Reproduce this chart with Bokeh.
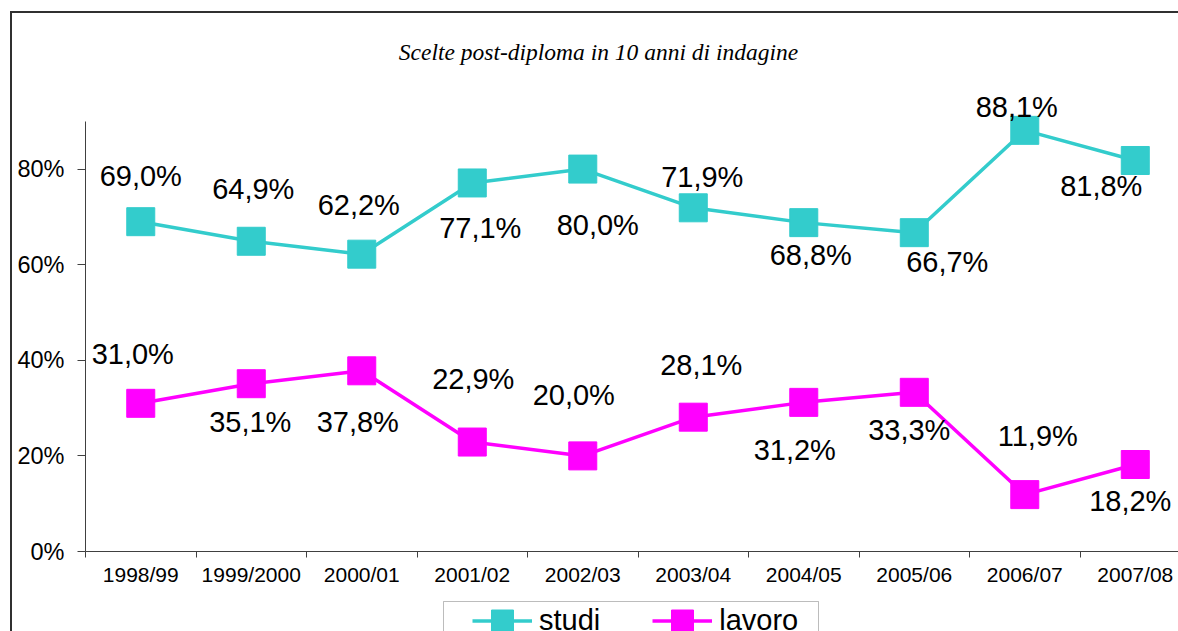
from bokeh.plotting import figure
from bokeh.models import (Range1d, FixedTicker, Label, Legend, LegendItem,
                          ColumnDataSource, BoxAnnotation, Div, Spacer)
from bokeh.layouts import column, row
from bokeh.embed import file_html
from bokeh.resources import INLINE
from bokeh.core.properties import value

# ---------------- data ----------------
categories = ["1998/99", "1999/2000", "2000/01", "2001/02", "2002/03",
              "2003/04", "2004/05", "2005/06", "2006/07", "2007/08"]
studi = [69.0, 64.9, 62.2, 77.1, 80.0, 71.9, 68.8, 66.7, 88.1, 81.8]
lavoro = [31.0, 35.1, 37.8, 22.9, 20.0, 28.1, 31.2, 33.3, 11.9, 18.2]
series_labels = ["studi", "lavoro"]
y_ticks = [0, 20, 40, 60, 80]
y_tick_labels = ["0%", "20%", "40%", "60%", "80%"]
title_text = "Scelte post-diploma in 10 anni di indagine"

# ---------------- label placement (screen px, style only) ----------------
studi_dx = [0, 2, -3, 8, 15, 9, 7, 33, -8, -34]
studi_dy = [-46, -52, -49, 45, 56, -31, 32, 29, -23, 26]
lavoro_dx = [-8, -1, -4, 1, -9, 8, -9, -5, 13, -5]
lavoro_dy = [-49, 38, 51, -63, -61, -52, 48, 38, -59, 36]

CYAN = "#33CCCC"
MAGENTA = "#FF00FF"
FONT = "Liberation Sans"
AXIS_COL = "#404040"
FRAME_COL = "#303030"


def fmt(v):
    return f"{v:.1f}%".replace(".", ",")


xs = list(range(len(categories)))

# ---------------- main chart ----------------
p = figure(width=1166, height=587, output_backend="svg", toolbar_location=None,
           title_location=None,
           x_range=Range1d(-0.5, 9.391), y_range=Range1d(0, 112.55),
           min_border_left=73, min_border_right=0, min_border_top=0,
           min_border_bottom=49)
p.xgrid.visible = False
p.ygrid.visible = False
p.outline_line_color = None
p.background_fill_color = "white"
p.border_fill_color = "white"

xa = p.xaxis[0]
xa.ticker = FixedTicker(ticks=xs, minor_ticks=[i - 0.5 for i in range(len(categories) + 1)])
xa.major_label_overrides = {i: c for i, c in enumerate(categories)}
xa.major_tick_out = 0
xa.major_tick_in = 0
xa.minor_tick_out = 6
xa.minor_tick_in = 0
xa.minor_tick_line_color = AXIS_COL
xa.axis_line_color = AXIS_COL
xa.major_label_text_font = FONT
xa.major_label_text_font_size = "21px"
xa.major_label_text_color = "black"
xa.major_label_standoff = 5

ya = p.yaxis[0]
ya.ticker = FixedTicker(ticks=y_ticks)
ya.major_label_overrides = dict(zip(y_ticks, y_tick_labels))
ya.bounds = (0, 90)
ya.major_tick_out = 8
ya.major_tick_in = 0
ya.minor_tick_out = 0
ya.minor_tick_in = 0
ya.major_tick_line_color = AXIS_COL
ya.axis_line_color = AXIS_COL
ya.major_label_text_font = FONT
ya.major_label_text_font_size = "23.5px"
ya.major_label_text_color = "black"
ya.major_label_standoff = 13

l1 = p.line(xs, studi, line_color=CYAN, line_width=3.5)
p.scatter(xs, studi, marker="square", size=28, fill_color=CYAN, line_color=CYAN)
l2 = p.line(xs, lavoro, line_color=MAGENTA, line_width=3.5)
p.scatter(xs, lavoro, marker="square", size=28, fill_color=MAGENTA, line_color=MAGENTA)

for vals, dx, dy in ((studi, studi_dx, studi_dy), (lavoro, lavoro_dx, lavoro_dy)):
    src = ColumnDataSource(dict(x=xs, y=vals, t=[fmt(v) for v in vals], dx=dx, dy=dy))
    p.text(x="x", y="y", text="t", x_offset="dx", y_offset="dy", source=src,
           text_align="center", text_baseline="middle",
           text_font=value(FONT), text_font_size="29px", text_color="black")

p.add_layout(Label(x=513, y=500, x_units="screen", y_units="screen",
                   text=title_text, text_align="center", text_baseline="middle",
                   text_font="Liberation Serif", text_font_style="italic",
                   text_font_size="23.5px", text_color="black"))

# ---------------- legend strip (series drawn out of view, legend only) ----------------
lg = figure(width=1166, height=31, output_backend="svg", toolbar_location=None,
            title_location=None, x_axis_type=None, y_axis_type=None,
            x_range=Range1d(-0.5, 9.391), y_range=Range1d(-20, -10),
            min_border_left=73, min_border_right=0, min_border_top=0,
            min_border_bottom=0)
lg.outline_line_color = None
lg.background_fill_color = "white"
lg.border_fill_color = "white"

ll1 = lg.line(xs, studi, line_color=CYAN, line_width=3.5)
ls1 = lg.scatter(xs, studi, marker="square", size=28, fill_color=CYAN, line_color=CYAN)
ll2 = lg.line(xs, lavoro, line_color=MAGENTA, line_width=3.5)
ls2 = lg.scatter(xs, lavoro, marker="square", size=28, fill_color=MAGENTA, line_color=MAGENTA)

legend = Legend(items=[LegendItem(label=series_labels[0], renderers=[ll1, ls1]),
                       LegendItem(label=series_labels[1], renderers=[ll2, ls2])],
                orientation="horizontal", location=(387, -17), padding=0,
                spacing=52, glyph_width=60, glyph_height=55, label_standoff=7,
                label_text_font=FONT, label_text_font_size="29px",
                label_text_color="black", border_line_alpha=0,
                background_fill_alpha=0, margin=0)
lg.add_layout(legend)
lg.add_layout(BoxAnnotation(left=358, right=733, top=30, bottom=-100,
                            left_units="screen", right_units="screen",
                            top_units="screen", bottom_units="screen",
                            fill_alpha=0, line_color="#202020", line_width=1))

# ---------------- outer frame lines ----------------
top_line = Div(width=1168, height=2, margin=0, styles={"background-color": FRAME_COL})
left_line = Div(width=2, height=618, margin=0, styles={"background-color": FRAME_COL})

layout = column(
    Spacer(width=1178, height=11, margin=0),
    row(Spacer(width=10, height=2, margin=0), top_line),
    row(Spacer(width=10, height=618, margin=0), left_line, column(p, lg)),
)

open("out.html", "w").write(file_html(layout, INLINE))
